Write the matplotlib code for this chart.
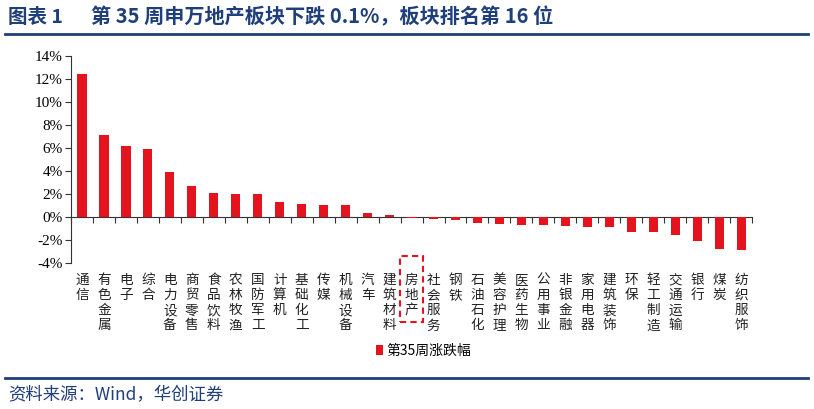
import matplotlib
matplotlib.use('Agg')
import matplotlib.pyplot as plt
from matplotlib.patches import Rectangle
from matplotlib.lines import Line2D
from matplotlib.ticker import FuncFormatter, FixedLocator

plt.rcParams['font.family'] = ['Noto Sans CJK SC', 'DejaVu Sans']

# 申万一级行业第35周涨跌幅 (%)
industries = ['通信', '有色金属', '电子', '综合', '电力设备', '商贸零售', '食品饮料', '农林牧渔',
              '国防军工', '计算机', '基础化工', '传媒', '机械设备', '汽车', '建筑材料', '房地产',
              '社会服务', '钢铁', '石油石化', '美容护理', '医药生物', '公用事业', '非银金融',
              '家用电器', '建筑装饰', '环保', '轻工制造', '交通运输', '银行', '煤炭', '纺织服饰']
weekly_change = [12.4, 7.13, 6.23, 5.89, 3.97, 2.75, 2.12, 2.03,
                 2.0, 1.34, 1.16, 1.1, 1.04, 0.38, 0.17, -0.1,
                 -0.17, -0.26, -0.52, -0.58, -0.64, -0.64, -0.75,
                 -0.84, -0.84, -1.28, -1.28, -1.51, -2.09, -2.72, -2.84]
highlight = '房地产'
series_name = '第35周涨跌幅'
title_no = '图表 1'
title = '第 35 周申万地产板块下跌 0.1%，板块排名第 16 位'
source = '资料来源：Wind，华创证券'

RED = '#E3141E'
NAVY = '#1F3F7A'

fig = plt.figure(figsize=(8.14, 4.09), dpi=100)
ax = fig.add_axes([0.0872, 0.356, 0.8368, 0.507])

x = list(range(len(industries)))
ax.bar(x, weekly_change, width=0.42, color=RED, label=series_name, zorder=3)

ax.set_xlim(-0.5, len(industries) - 0.5)
ax.set_ylim(-4, 14)
ax.set_yticks(range(-4, 15, 2))
ax.yaxis.set_major_formatter(FuncFormatter(lambda v, p: '%d%%' % v))
for lab in ax.get_yticklabels():
    lab.set_fontfamily('Liberation Serif')
    lab.set_fontsize(11)
ax.tick_params(axis='y', direction='out', length=4, width=0.8, color='#333333', pad=2)

ax.spines['top'].set_visible(False)
ax.spines['right'].set_visible(False)
ax.spines['bottom'].set_position(('data', 0))
ax.spines['left'].set_color('#333333')
ax.spines['bottom'].set_color('#333333')

ax.xaxis.set_major_locator(FixedLocator([i - 0.5 for i in range(len(industries) + 1)]))
ax.set_xticklabels([])
ax.tick_params(axis='x', direction='out', length=4, width=0.8, color='#333333')

# vertical category labels under the plot area
for i, name in enumerate(industries):
    ax.text(i, -0.047, '\n'.join(name), transform=ax.get_xaxis_transform(),
            ha='center', va='top', fontsize=9.8, linespacing=1.1, color='#222222')

# dashed box around the highlighted sector
hi = industries.index(highlight)
box = Rectangle((hi - 0.52, -0.283), 1.04, 0.318, transform=ax.get_xaxis_transform(),
                fill=False, edgecolor=RED, linestyle=(0, (3, 2)), linewidth=1.5, clip_on=False)
ax.add_patch(box)

leg = fig.legend(loc='center', bbox_to_anchor=(0.52, 0.142), frameon=False,
                 handlelength=0.55, handleheight=0.8, handletextpad=0.2, fontsize=10)

# header and footer
fig.text(0.01, 0.958, title_no, fontsize=14, fontweight='bold', color=NAVY, va='center')
fig.text(0.112, 0.958, title, fontsize=14.5, fontweight='bold', color=NAVY, va='center')
fig.add_artist(Line2D([0.006, 0.993], [0.918, 0.918], color=NAVY, linewidth=2))
fig.add_artist(Line2D([0.006, 0.993], [0.076, 0.076], color=NAVY, linewidth=2))
fig.text(0.01, 0.034, source, fontsize=12.5, style='italic', color=NAVY, va='center')

fig.savefig('out.png', dpi=100)
